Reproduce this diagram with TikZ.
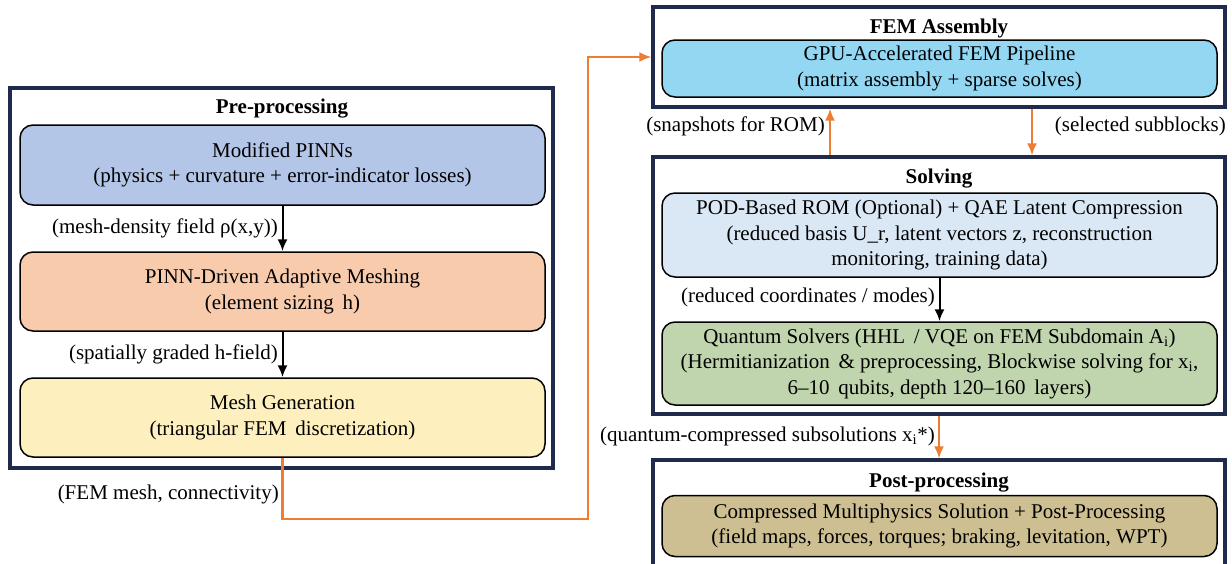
\documentclass[tikz,border=0pt]{standalone}
\usepackage{fontspec}
\setmainfont{Liberation Serif}
\usepackage{tikz}
\usetikzlibrary{arrows.meta,positioning}

\definecolor{StageNavy}{HTML}{1F2A4D}
\definecolor{LinkOrange}{HTML}{ED7D31}
\definecolor{PinnBlue}{HTML}{B4C6E7}
\definecolor{MeshPeach}{HTML}{F8CBAD}
\definecolor{MeshYellow}{HTML}{FEF0BE}
\definecolor{GpuCyan}{HTML}{93D7F3}
\definecolor{RomBlue}{HTML}{DAE8F6}
\definecolor{QuantGreen}{HTML}{C0D5AE}
\definecolor{PostTan}{HTML}{CDBF91}

\begin{document}
\begin{tikzpicture}[x=1pt, y=-1pt, every node/.style={font=\fontsize{21}{25.5}\selectfont}]
			\tikzstyle{Stage}	= [draw=StageNavy, line width=3.2pt, fill=white, inner sep=0pt]
			\tikzstyle{Step}	= [draw=black, line width=1.5pt, rounded corners=13pt, align=center, inner sep=0pt, minimum width=555pt]
			\tikzstyle{Title}	= [font=\fontsize{21}{25.5}\selectfont\bfseries]
			\tikzstyle{Note}	= [anchor=east, inner sep=0pt]
			\tikzstyle{Flow}	= [-{Latex[length=12pt,width=10pt]}, line width=2pt, black]
			\tikzstyle{Link}	= [-{Latex[length=12pt,width=10pt]}, line width=2.2pt, LinkOrange]

			\clip (0,0) rectangle (1232,563);

			% pre-processing column
			\node (pre) at (281.5,278) [Stage, minimum width=543pt, minimum height=380pt] {};
			\node (preTitle) at (282,109) [Title] {Pre-processing};
			\node (pinn) at (282.5,165) [Step, fill=PinnBlue, minimum width=525pt, minimum height=80pt] {Modified PINNs\\(physics + curvature + error-indicator losses)};
			\node (adapt) at (282.5,291.5) [Step, fill=MeshPeach, minimum width=525pt, minimum height=79pt] {PINN-Driven Adaptive Meshing\\(element sizing\, h)};
			\node (mesh) at (282.5,417.5) [Step, fill=MeshYellow, minimum width=525pt, minimum height=79pt] {Mesh Generation\\(triangular FEM\, discretization)};

			% right column
			\node (fem) at (939,57) [Stage, minimum width=572pt, minimum height=100pt] {};
			\node (femTitle) at (939,28) [Title] {FEM Assembly};
			\node (gpu) at (939.5,68.5) [Step, fill=GpuCyan, minimum height=57pt] {GPU-Accelerated FEM Pipeline\\(matrix assembly + sparse solves)};

			\node (solve) at (939,285.5) [Stage, minimum width=572pt, minimum height=257pt] {};
			\node (solveTitle) at (939,179) [Title] {Solving};
			\node (rom) at (939.5,235) [Step, fill=RomBlue, minimum height=84pt] {POD-Based ROM (Optional) + QAE Latent Compression\\(reduced basis U\_r, latent vectors z, reconstruction\\monitoring, training data)};
			\node (qsolve) at (939.5,363.5) [Step, fill=QuantGreen, minimum height=83pt] {Quantum Solvers (HHL\, / VQE on FEM Subdomain A\textsubscript{i})\\(Hermitianization\, \& preprocessing, Blockwise solving for x\textsubscript{i},\\6--10\, qubits, depth 120--160\, layers)};

			\node (post) at (939,520) [Stage, minimum width=572pt, minimum height=120pt] {};
			\node (postTitle) at (939,483) [Title] {Post-processing};
			\node (result) at (939.5,526) [Step, fill=PostTan, minimum height=61pt] {Compressed Multiphysics Solution + Post-Processing\\(field maps, forces, torques; braking, levitation, WPT)};

			\coordinate (turn) at (588,519);

			\draw (pinn) to (adapt) [Flow];
			\draw (adapt) to (mesh) [Flow];
			\draw (rom) to (qsolve) [Flow];
			\draw (mesh.south) |- (turn) |- (fem.west) [Link];
			\draw ([xshift=-109pt]solve.north) to ([xshift=-109pt]fem.south) [Link];
			\draw ([xshift=93pt]fem.south) to ([xshift=93pt]solve.north) [Link];
			\draw (solve) to (post) [Link];

			\node (densityNote) at (278,228) [Note] {(mesh-density field ρ(x,y))};
			\node (gradedNote) at (278,354) [Note] {(spatially graded h-field)};
			\node (meshNote) at (279,494) [Note] {(FEM mesh, connectivity)};
			\node (snapNote) at (825,126) [Note] {(snapshots for ROM)};
			\node (blockNote) at (1226,126) [Note] {(selected subblocks)};
			\node (modeNote) at (935,297) [Note] {(reduced coordinates / modes)};
			\node (subNote) at (935,436) [Note] {(quantum-compressed subsolutions x\textsubscript{i}*)};
		\end{tikzpicture}
\end{document}
